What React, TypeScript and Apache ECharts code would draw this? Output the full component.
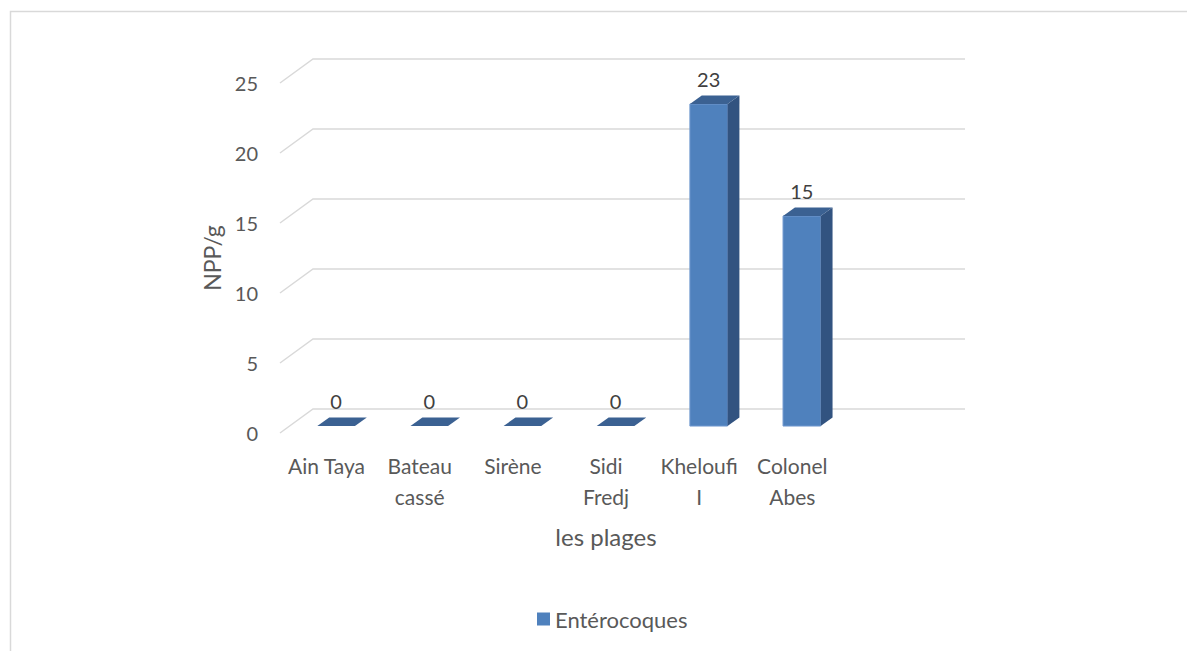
import React, { useEffect, useRef } from "react";
import * as echarts from "echarts";

// Beaches sampled and enterococci counts (NPP/g)
const categories = ["Ain Taya", "Bateau\ncassé", "Sirène", "Sidi\nFredj", "Kheloufi\nI", "Colonel\nAbes", ""];
const enterocoques = [0, 0, 0, 0, 23, 15];
const yTicks = [0, 5, 10, 15, 20, 25];

const seriesName = "Entérocoques";
const FONT = "Lato, 'Noto Sans', sans-serif";

// 3D perspective offsets of the back wall relative to the front plane
const DX = 33;
const DY = 24;

export default function App() {
  const ref = useRef<HTMLDivElement>(null);

  useEffect(() => {
    if (!ref.current) return;
    const chart = echarts.init(ref.current, undefined, { renderer: "svg" });

    const gridRender = (params: any, api: any) => {
      const cs = params.coordSys;
      const p = api.coord([0, api.value(1)]);
      const y = p[1];
      return {
        type: "polyline",
        shape: {
          points: [
            [cs.x, y],
            [cs.x + DX, y - DY],
            [cs.x + cs.width + DX, y - DY],
          ],
        },
        style: { stroke: "#d9d9d9", lineWidth: 1.5, fill: "none" },
        silent: true,
      };
    };

    const barRender = (params: any, api: any) => {
      const i = api.value(0);
      const v = api.value(1);
      const top = api.coord([i, v]);
      const base = api.coord([i, 0]);
      const band = api.size([1, 0])[0];
      const w = band * 0.404;
      const f0 = 0.29;
      const dd = 0.36;
      const ddx = dd * DX;
      const ddy = dd * DY;
      const cx = base[0] + f0 * DX;
      const x0 = cx - w / 2;
      const x1 = cx + w / 2;
      const yb = base[1] - f0 * DY;
      const yt = top[1] - f0 * DY;
      const children: any[] = [];
      if (yb - yt > 0.5) {
        children.push({
          type: "rect",
          shape: { x: x0, y: yt, width: w, height: yb - yt },
          style: { fill: "#4f81bd", stroke: "#7199cf", lineWidth: 1 },
        });
        children.push({
          type: "polygon",
          shape: {
            points: [
              [x1, yt],
              [x1 + ddx, yt - ddy],
              [x1 + ddx, yb - ddy],
              [x1, yb],
            ],
          },
          style: { fill: "#325380" },
        });
      }
      children.push({
        type: "polygon",
        shape: {
          points: [
            [x0, yt],
            [x1, yt],
            [x1 + ddx, yt - ddy],
            [x0 + ddx, yt - ddy],
          ],
        },
        style: { fill: "#3b6192" },
      });
      children.push({
        type: "text",
        style: {
          text: String(v),
          x: cx,
          y: yt - ddy - 16,
          align: "center",
          verticalAlign: "middle",
          fontSize: 20,
          fontFamily: FONT,
          fill: "#404040",
        },
      });
      return { type: "group", children };
    };

    chart.setOption({
      animation: false,
      backgroundColor: "#ffffff",
      graphic: [
        {
          type: "rect",
          shape: { x: 10.5, y: 11.5, width: 1400, height: 900 },
          style: { fill: "none", stroke: "#d9d9d9", lineWidth: 1.5 },
          silent: true,
          z: -10,
        },
      ],
      grid: { left: 280, right: 255, top: 83, bottom: 218 },
      legend: {
        data: [{ name: seriesName, icon: "rect", itemStyle: { color: "#4f81bd" } }],
        left: 532,
        top: 603,
        itemWidth: 13,
        itemHeight: 13,
        itemGap: 6,
        textStyle: { color: "#595959", fontSize: 22, fontFamily: FONT },
      },
      xAxis: {
        type: "category",
        data: categories,
        axisLine: { show: false },
        axisTick: { show: false },
        axisLabel: {
          interval: 0,
          margin: 17,
          color: "#595959",
          fontSize: 21,
          fontFamily: FONT,
          lineHeight: 31,
        },
        name: "les plages",
        nameLocation: "middle",
        nameGap: 91,
        nameTextStyle: { color: "#595959", fontSize: 24, fontFamily: FONT },
      },
      yAxis: {
        type: "value",
        min: 0,
        max: 25,
        interval: 5,
        axisLine: { show: false },
        axisTick: { show: false },
        splitLine: { show: false },
        axisLabel: { margin: 22, color: "#595959", fontSize: 20, fontFamily: FONT, padding: [6, 0, 0, 0] },
        name: "NPP/g",
        nameLocation: "middle",
        nameRotate: 90,
        nameGap: 56,
        nameTextStyle: { color: "#595959", fontSize: 23, fontFamily: FONT },
      },
      series: [
        {
          type: "custom",
          name: "gridlines",
          renderItem: gridRender,
          data: yTicks.map((t) => [0, t]),
          z: 1,
          silent: true,
        },
        {
          type: "custom",
          name: seriesName,
          renderItem: barRender,
          data: enterocoques.map((v, i) => [i, v]),
          z: 2,
        },
      ],
    });

    return () => chart.dispose();
  }, []);

  return (
    <div
      ref={ref}
      style={{ position: "absolute", left: 0, top: 0, width: 1187, height: 651 }}
    />
  );
}
